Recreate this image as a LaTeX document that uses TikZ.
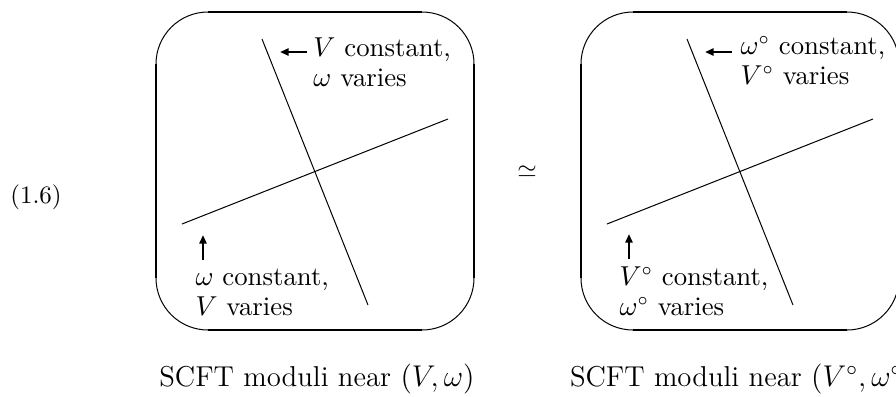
\documentclass[tikz,border=0pt]{standalone}
\usepackage{amsmath}
\usetikzlibrary{arrows.meta}

\begin{document}
\begin{tikzpicture}[
        x=0.4pt, y=-0.4pt,
        corner/.style={line width=0.4pt, rounded corners=20.8pt},
        side/.style={line width=0.9pt},
        locus/.style={line width=0.4pt},
        pointer/.style={-{Triangle[length=3.4pt, width=2.8pt]}, line width=0.9pt},
        tag/.style={anchor=north west, inner sep=0pt, align=left, font=\fontsize{10.7}{12}\selectfont},
        caption/.style={anchor=base, inner sep=0pt, font=\fontsize{11.5}{14}\selectfont}
    ]
        \clip (0,0) rectangle (896,396);

        % equation number and the equivalence
        \node (eqno) at (36,197) {(1.6)};
        \node (equiv) at (527,172) {$\simeq$};

        % Left: moduli near (V, omega)
        \draw[corner] (156,12) rectangle (474,330);
        \draw[side] (208,12) -- (422,12) (474,64) -- (474,278)
                    (422,330) -- (208,330) (156,278) -- (156,64);
        \draw[locus] (262,39) -- (368,305);
        \draw[locus] (182,224) -- (448,119);

        \node[tag] (vconst) at (313,37) {$V$ constant,\\$\omega$ varies};
        \coordinate (vtail) at (307,52);
        \coordinate (vhead) at (280,52);
        \draw[pointer] (vtail) -- (vhead);

        \node[tag] (wconst) at (195,268.5) {$\omega$ constant,\\$V$ varies};
        \coordinate (wtail) at (203,260);
        \coordinate (whead) at (203,235);
        \draw[pointer] (wtail) -- (whead);

        \node[caption] (capA) at (317,386) {SCFT moduli near $(V,\omega)$};

        % Right: moduli near (V°, omega°)
        \draw[corner] (581,12) rectangle (899,330);
        \draw[side] (633,12) -- (847,12) (899,64) -- (899,278)
                    (847,330) -- (633,330) (581,278) -- (581,64);
        \draw[locus] (687,39) -- (793,305);
        \draw[locus] (607,224) -- (873,119);

        \node[tag] (woconst) at (740,36) {$\omega^\circ$ constant,\\$V^\circ$ varies};
        \coordinate (wotail) at (732,52);
        \coordinate (wohead) at (705,52);
        \draw[pointer] (wotail) -- (wohead);

        \node[tag] (voconst) at (619,266) {$V^\circ$ constant,\\$\omega^\circ$ varies};
        \coordinate (votail) at (629,259);
        \coordinate (vohead) at (629,234);
        \draw[pointer] (votail) -- (vohead);

        \node[caption] (capB) at (742,386) {SCFT moduli near $(V^\circ,\omega^\circ)$};

    \end{tikzpicture}
\end{document}
